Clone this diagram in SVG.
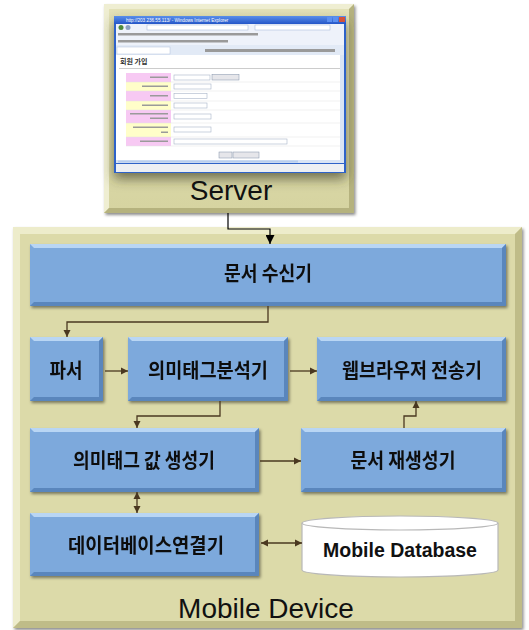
<svg xmlns="http://www.w3.org/2000/svg" width="529" height="630" viewBox="0 0 529 630">
<defs>
  <filter id="sh" x="-10%" y="-10%" width="125%" height="130%">
    <feDropShadow dx="1.5" dy="2" stdDeviation="1.5" flood-color="#000" flood-opacity="0.45"/>
  </filter>
  <filter id="sh2" x="-10%" y="-10%" width="125%" height="135%">
    <feDropShadow dx="0" dy="6" stdDeviation="6" flood-color="#3a3a20" flood-opacity="0.65"/>
  </filter>
  <linearGradient id="khaki" x1="0" y1="0" x2="0" y2="1">
    <stop offset="0" stop-color="#E4E2B8"/>
    <stop offset="1" stop-color="#D6D4A1"/>
  </linearGradient>
  <linearGradient id="title" x1="0" y1="0" x2="0" y2="1">
    <stop offset="0" stop-color="#5A8FEA"/>
    <stop offset="1" stop-color="#2456C8"/>
  </linearGradient>
  <marker id="ab" viewBox="0 0 10 10" refX="10" refY="5" markerWidth="7" markerHeight="8" markerUnits="userSpaceOnUse" orient="auto-start-reverse">
    <path d="M0,0 L10,5 L0,10 Z" fill="#4A3820"/>
  </marker>
  <marker id="ak" viewBox="0 0 10 10" refX="10" refY="5" markerWidth="12" markerHeight="9" markerUnits="userSpaceOnUse" orient="auto">
    <path d="M0,0 L10,5 L0,10 Z" fill="#000"/>
  </marker>
  <style>
    .box{fill:#7DA9DC;}
    .hi{fill:#B9D6F4;}
    .lo{fill:#5A86BC;}
    .lbl{font-family:"Noto Sans CJK KR","Liberation Sans",sans-serif;font-weight:bold;font-size:20px;fill:#111;text-anchor:middle;}
    .big{font-family:"Liberation Sans",Arial,sans-serif;font-size:28px;fill:#111;text-anchor:middle;}
    .con{fill:none;stroke:#4A3820;stroke-width:1.3;}
    .tiny{fill:#9a9a9a;}
  </style>
</defs>

<!-- Mobile Device container -->
<g id="mobile-device">
  <rect x="13" y="227" width="509" height="401" fill="#DCDAA9" filter="url(#sh)"/>
  <path d="M13,227 H522 L515,234 H20 V621 L13,628 Z" fill="#EDECCB"/>
  <path d="M522,227 V628 H13 L20,621 H515 V234 Z" fill="#BFBC88"/>
  <rect x="20" y="234" width="495" height="387" fill="#DCDAA9"/>
  <text class="big" x="266" y="618">Mobile Device</text>
</g>

<!-- Server container -->
<g id="server">
  <rect x="104" y="4" width="250" height="209" fill="url(#khaki)" filter="url(#sh)"/>
  <path d="M104,4 H354 L349,9 H109 V208 L104,213 Z" fill="#EFEED2"/>
  <path d="M354,4 V213 H104 L109,208 H349 V9 Z" fill="#B5B27E"/>
  <rect x="109" y="9" width="240" height="199" fill="url(#khaki)"/>
  <!-- browser screenshot -->
  <g filter="url(#sh2)">
    <rect x="114" y="16" width="232" height="157" fill="#2F62C8"/>
  </g>
  <rect x="114" y="16" width="232" height="8" fill="url(#title)"/>
  <text x="126" y="22" font-family="Liberation Sans, sans-serif" font-size="4.6" fill="#fff">http://203.236.55.113/ - Windows Internet Explorer</text>
  <rect x="327" y="17" width="5" height="5" fill="#5b8ff0"/>
  <rect x="333" y="17" width="5" height="5" fill="#5b8ff0"/>
  <rect x="339" y="17" width="6" height="5" fill="#D4533A"/>
  <rect x="116" y="24" width="228" height="31" fill="#EEF2FA"/>
  <rect x="116" y="45" width="228" height="10" fill="#E2EAF6"/>
  <rect x="147" y="25" width="101" height="5" fill="#fff" stroke="#9fb3d6" stroke-width="0.5"/>
  <rect x="255" y="25" width="75" height="5" fill="#fff" stroke="#9fb3d6" stroke-width="0.5"/>
  <circle cx="121" cy="27.5" r="2.5" fill="#4D8A3C"/>
  <circle cx="128" cy="27.5" r="2.5" fill="#8aa0c0"/>
  <rect x="118" y="33" width="140" height="2.5" class="tiny"/>
  <rect x="118" y="40" width="110" height="2.5" class="tiny"/>
  <rect x="117" y="47" width="53" height="7" fill="#fff" stroke="#b0c0dc" stroke-width="0.5"/>
  <rect x="205" y="49" width="130" height="3" class="tiny"/>
  <rect x="116" y="55" width="224" height="106" fill="#fff"/>
  <rect x="340" y="55" width="4" height="108" fill="#D9E4F5"/>
  <rect x="116" y="160" width="224" height="3" fill="#D9E4F5"/>
  <rect x="118" y="160.5" width="180" height="2" fill="#B8CDEE"/>
  <rect x="116" y="164" width="228" height="8" fill="#EDEFF3"/>
  <text x="120" y="64" font-family="Noto Sans CJK KR, sans-serif" font-weight="bold" font-size="7" fill="#333">회원 가입</text>
  <rect x="119" y="68" width="221" height="1" fill="#cccccc"/>
  <!-- form rows -->
  <rect x="126" y="73" width="45" height="9" fill="#F7C9F3"/>
  <rect x="126" y="82" width="45" height="9" fill="#FFFEC9"/>
  <rect x="126" y="91" width="45" height="10" fill="#F7C9F3"/>
  <rect x="126" y="101" width="45" height="9" fill="#FFFEC9"/>
  <rect x="126" y="110" width="45" height="13" fill="#F7C9F3"/>
  <rect x="126" y="123" width="45" height="14" fill="#FFFEC9"/>
  <rect x="126" y="137" width="45" height="9" fill="#F7C9F3"/>
  <g fill="none" stroke="#e3e3e3" stroke-width="0.5">
    <path d="M126,82 H340 M126,91 H340 M126,101 H340 M126,110 H340 M126,123 H340 M126,137 H340 M126,146 H340"/>
  </g>
  <g fill="#fff" stroke="#a8b4c8" stroke-width="0.6">
    <rect x="174" y="75" width="36" height="5"/>
    <rect x="174" y="84" width="37" height="5"/>
    <rect x="174" y="93.5" width="33" height="5"/>
    <rect x="174" y="103" width="33" height="5"/>
    <rect x="174" y="114" width="37" height="5"/>
    <rect x="174" y="127" width="37" height="5"/>
    <rect x="174" y="139" width="113" height="5"/>
  </g>
  <g fill="#e6e6ea" stroke="#8090a8" stroke-width="0.5">
    <rect x="212" y="74.5" width="27" height="5.5"/>
    <rect x="219" y="152" width="13" height="6"/>
    <rect x="233" y="152" width="26" height="6"/>
  </g>
  <g class="tiny">
    <rect x="150" y="76.5" width="18" height="1.5"/>
    <rect x="142" y="85.5" width="26" height="1.5"/>
    <rect x="150" y="95" width="18" height="1.5"/>
    <rect x="142" y="104.5" width="26" height="1.5"/>
    <rect x="130" y="113" width="38" height="1.5"/>
    <rect x="150" y="117.5" width="18" height="1.5"/>
    <rect x="133" y="126.5" width="35" height="1.5"/>
    <rect x="161" y="131.5" width="7" height="1.5"/>
    <rect x="140" y="140.5" width="28" height="1.5"/>
  </g>
  <text class="big" x="231" y="200">Server</text>
</g>

<!-- nodes -->
<g id="n-receiver" filter="url(#sh)">
  <rect class="box" x="30" y="244" width="476" height="62"/>
  <path class="hi" d="M30,244 H506 L502,248 H34 Z"/>
  <path class="lo" d="M30,306 H506 V244 L502,248 V302 H34 Z"/>
  <text class="lbl" x="268" y="281" textLength="88" lengthAdjust="spacingAndGlyphs">문서 수신기</text>
</g>
<g id="n-parser" filter="url(#sh)">
  <rect class="box" x="30" y="337" width="73" height="64"/>
  <path class="hi" d="M30,337 H103 L99,341 H34 Z"/>
  <path class="lo" d="M30,401 H103 V337 L99,341 V397 H34 Z"/>
  <text class="lbl" x="66" y="378" textLength="33" lengthAdjust="spacingAndGlyphs">파서</text>
</g>
<g id="n-analyzer" filter="url(#sh)">
  <rect class="box" x="128" y="337" width="160" height="64"/>
  <path class="hi" d="M128,337 H288 L284,341 H132 Z"/>
  <path class="lo" d="M128,401 H288 V337 L284,341 V397 H132 Z"/>
  <text class="lbl" x="208" y="378" textLength="120" lengthAdjust="spacingAndGlyphs">의미태그분석기</text>
</g>
<g id="n-browser" filter="url(#sh)">
  <rect class="box" x="317" y="337" width="189" height="64"/>
  <path class="hi" d="M317,337 H506 L502,341 H321 Z"/>
  <path class="lo" d="M317,401 H506 V337 L502,341 V397 H321 Z"/>
  <text class="lbl" x="412" y="378" textLength="140" lengthAdjust="spacingAndGlyphs">웹브라우저 전송기</text>
</g>
<g id="n-value" filter="url(#sh)">
  <rect class="box" x="30" y="428" width="229" height="64"/>
  <path class="hi" d="M30,428 H259 L255,432 H34 Z"/>
  <path class="lo" d="M30,492 H259 V428 L255,432 V488 H34 Z"/>
  <text class="lbl" x="144" y="468" textLength="142" lengthAdjust="spacingAndGlyphs">의미태그 값 생성기</text>
</g>
<g id="n-regen" filter="url(#sh)">
  <rect class="box" x="301" y="428" width="205" height="64"/>
  <path class="hi" d="M301,428 H506 L502,432 H305 Z"/>
  <path class="lo" d="M301,492 H506 V428 L502,432 V488 H305 Z"/>
  <text class="lbl" x="403" y="468" textLength="105" lengthAdjust="spacingAndGlyphs">문서 재생성기</text>
</g>
<g id="n-dbconn" filter="url(#sh)">
  <rect class="box" x="30" y="513" width="229" height="63"/>
  <path class="hi" d="M30,513 H259 L255,517 H34 Z"/>
  <path class="lo" d="M30,576 H259 V513 L255,517 V572 H34 Z"/>
  <text class="lbl" x="146" y="553" textLength="156" lengthAdjust="spacingAndGlyphs">데이터베이스연결기</text>
</g>
<g id="n-mobiledb">
  <path d="M302,523 V570 A98,7 0 0 0 498,570 V523" fill="#fff" stroke="#b8b8b8" stroke-width="1.2"/>
  <ellipse cx="400" cy="523" rx="98" ry="7" fill="#fff" stroke="#b8b8b8" stroke-width="1.2"/>
  <text x="400" y="557" font-family="Liberation Sans, Arial, sans-serif" font-weight="bold" font-size="19.5" fill="#111" text-anchor="middle">Mobile Database</text>
</g>

<!-- connectors -->
<g id="connectors">
  <path d="M228,213 V229 H270 V244" fill="none" stroke="#000" stroke-width="1.2" marker-end="url(#ak)"/>
  <path class="con" d="M268,306 V322 H67 V337" marker-end="url(#ab)"/>
  <path class="con" d="M105,371 H128" marker-end="url(#ab)"/>
  <path class="con" d="M290,371 H317" marker-end="url(#ab)"/>
  <path class="con" d="M220,401 V416 H137 V428" marker-end="url(#ab)"/>
  <path class="con" d="M260,461 H301" marker-end="url(#ab)"/>
  <path class="con" d="M404,428 V416 H416 V401" marker-end="url(#ab)"/>
  <path class="con" d="M137,492 V513" marker-start="url(#ab)" marker-end="url(#ab)"/>
  <path class="con" d="M261,543 H302" marker-start="url(#ab)" marker-end="url(#ab)"/>
</g>
</svg>
